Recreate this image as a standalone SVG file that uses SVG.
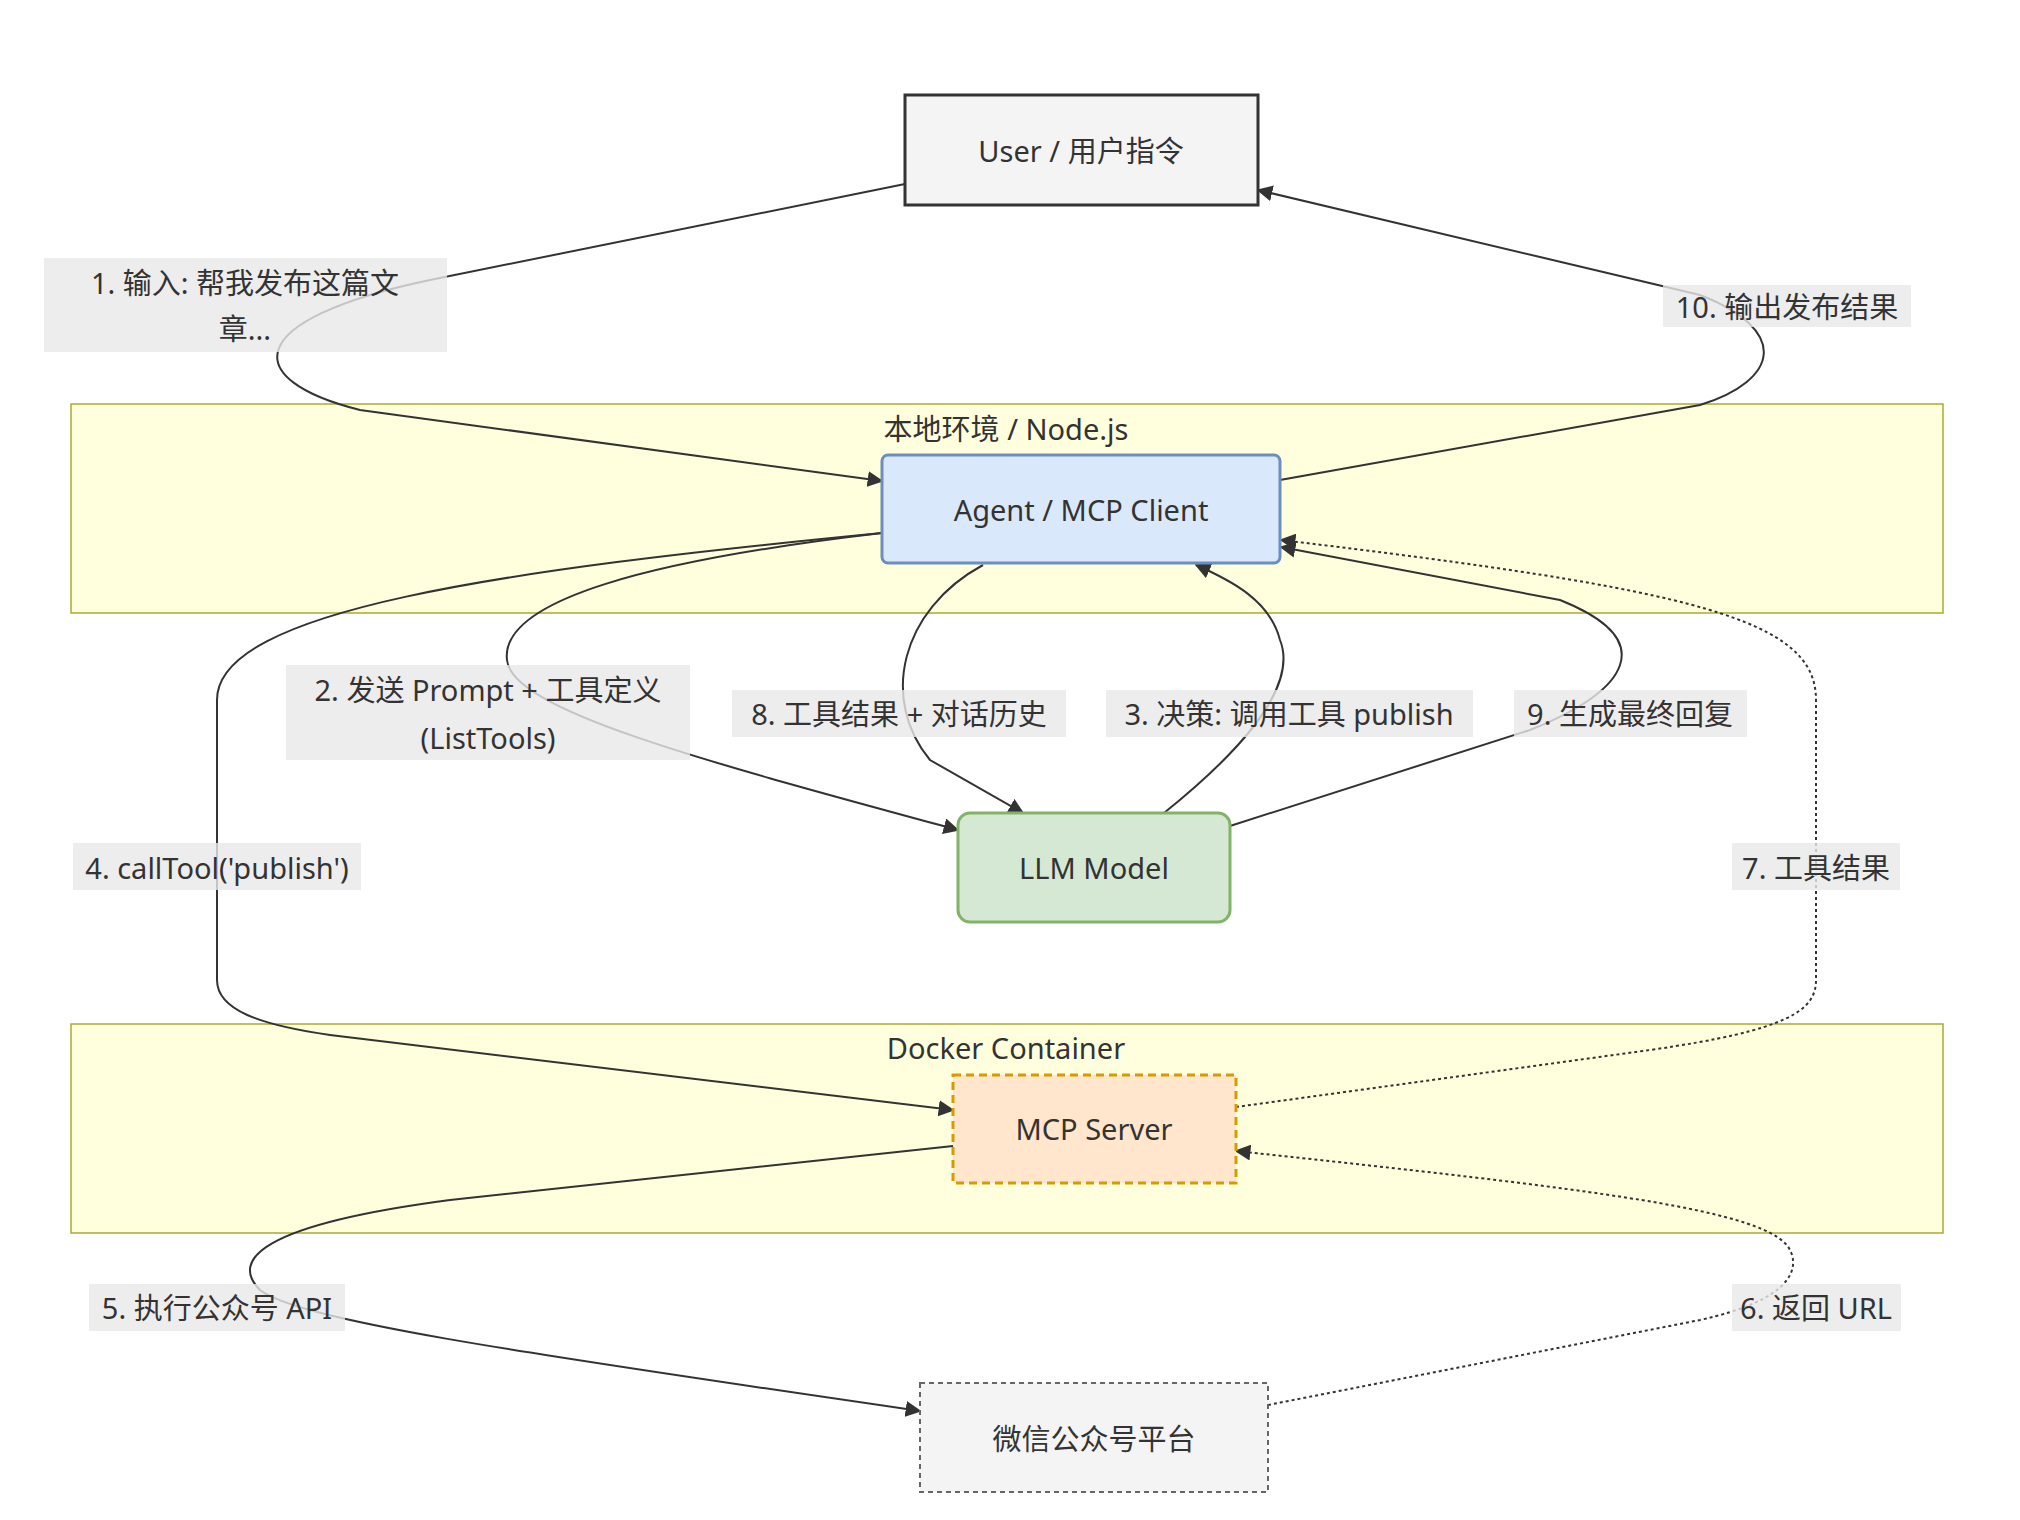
<svg xmlns="http://www.w3.org/2000/svg" width="2020" height="1520" viewBox="0 0 2020 1520">
<defs>
<marker id="ah" viewBox="0 0 10 10" refX="9" refY="5" markerWidth="8" markerHeight="8" orient="auto-start-reverse"><path d="M0,0 L10,5 L0,10 z" fill="#333"/></marker>
<style>
text{font-family:"Noto Sans","Noto Sans CJK SC",sans-serif;font-size:29px;fill:#333;text-anchor:middle;dominant-baseline:central}
.e{fill:none;stroke:#333;stroke-width:2;marker-end:url(#ah)}
.d{stroke-dasharray:3,3}
.lb{fill:#e8e8e8;opacity:0.8}
.grp{fill:#ffffde;stroke:#aaaa33;stroke-width:1.5}
</style>
</defs>
<rect width="2020" height="1520" fill="#fff"/>
<g id="g-local"><rect class="grp" x="71" y="404" width="1872" height="209"/><text x="1006" y="428">本地环境 / Node.js</text></g>
<g id="g-docker"><rect class="grp" x="71" y="1024" width="1872" height="209"/><text x="1006" y="1047">Docker Container</text></g>
<g id="connectors">
<path class="e" d="M905,184 L430,280 C240,320 240,380 360,410 L882,481"/>
<path class="e" d="M1280,480 L1700,405 C1780,380 1790,330 1700,295 L1258,190"/>
<path class="e" d="M882,533 C650,560 500,600 507,660 C512,710 700,760 958,830"/>
<path class="e" d="M983,565 C900,610 880,700 930,760 L1023,813"/>
<path class="e" d="M1164,813 C1230,760 1300,690 1280,640 C1270,600 1230,580 1196,565"/>
<path class="e" d="M1230,826 L1530,730 C1630,690 1660,640 1560,600 L1281,547"/>
<path class="e" d="M882,533 C500,570 217,610 217,700 L217,980 C217,1010 260,1025 330,1035 L953,1110"/>
<path class="e d" d="M1236,1107 L1650,1050 C1790,1030 1816,1010 1816,980 L1816,700 C1816,620 1700,590 1281,540"/>
<path class="e" d="M953,1146 L450,1200 C260,1225 230,1260 260,1290 C300,1320 500,1350 920,1411"/>
<path class="e d" d="M1268,1405 L1700,1320 C1790,1300 1800,1270 1790,1250 C1770,1210 1600,1190 1236,1151"/>
</g>
<g id="labels">
<rect class="lb" x="44" y="258" width="403" height="94"/><text x="245" y="282">1. 输入: 帮我发布这篇文</text><text x="245" y="328">章...</text>
<rect class="lb" x="1663" y="285" width="248" height="42"/><text x="1787" y="306">10. 输出发布结果</text>
<rect class="lb" x="286" y="665" width="404" height="95"/><text x="488" y="689">2. 发送 Prompt + 工具定义</text><text x="488" y="737">(ListTools)</text>
<rect class="lb" x="732" y="690" width="334" height="47"/><text x="899" y="713">8. 工具结果 + 对话历史</text>
<rect class="lb" x="1106" y="690" width="367" height="47"/><text x="1289" y="713">3. 决策: 调用工具 publish</text>
<rect class="lb" x="1514" y="690" width="233" height="47"/><text x="1630" y="713">9. 生成最终回复</text>
<rect class="lb" x="73" y="843" width="288" height="47"/><text x="217" y="867">4. callTool('publish')</text>
<rect class="lb" x="1732" y="843" width="168" height="47"/><text x="1816" y="867">7. 工具结果</text>
<rect class="lb" x="89" y="1284" width="256" height="47"/><text x="217" y="1307">5. 执行公众号 API</text>
<rect class="lb" x="1732" y="1284" width="169" height="47"/><text x="1816" y="1307">6. 返回 URL</text>
</g>
<g id="user"><rect x="905" y="95" width="353" height="110" fill="#f4f4f4" stroke="#333" stroke-width="3"/><text x="1081" y="150">User / 用户指令</text></g>
<g id="agent"><rect x="882" y="455" width="398" height="108" rx="6" fill="#dae8fc" stroke="#6c8ebf" stroke-width="3"/><text x="1081" y="509">Agent / MCP Client</text></g>
<g id="llm"><rect x="958" y="813" width="272" height="109" rx="12" fill="#d5e8d4" stroke="#82b366" stroke-width="3"/><text x="1094" y="867">LLM Model</text></g>
<g id="mcp"><rect x="953" y="1075" width="283" height="108" fill="#ffe6cc" stroke="#d79b00" stroke-width="3" stroke-dasharray="8,5"/><text x="1094" y="1128">MCP Server</text></g>
<g id="wechat"><rect x="920" y="1383" width="348" height="109" fill="#f4f4f4" stroke="#666" stroke-width="2" stroke-dasharray="5,4"/><text x="1094" y="1438">微信公众号平台</text></g>
</svg>
